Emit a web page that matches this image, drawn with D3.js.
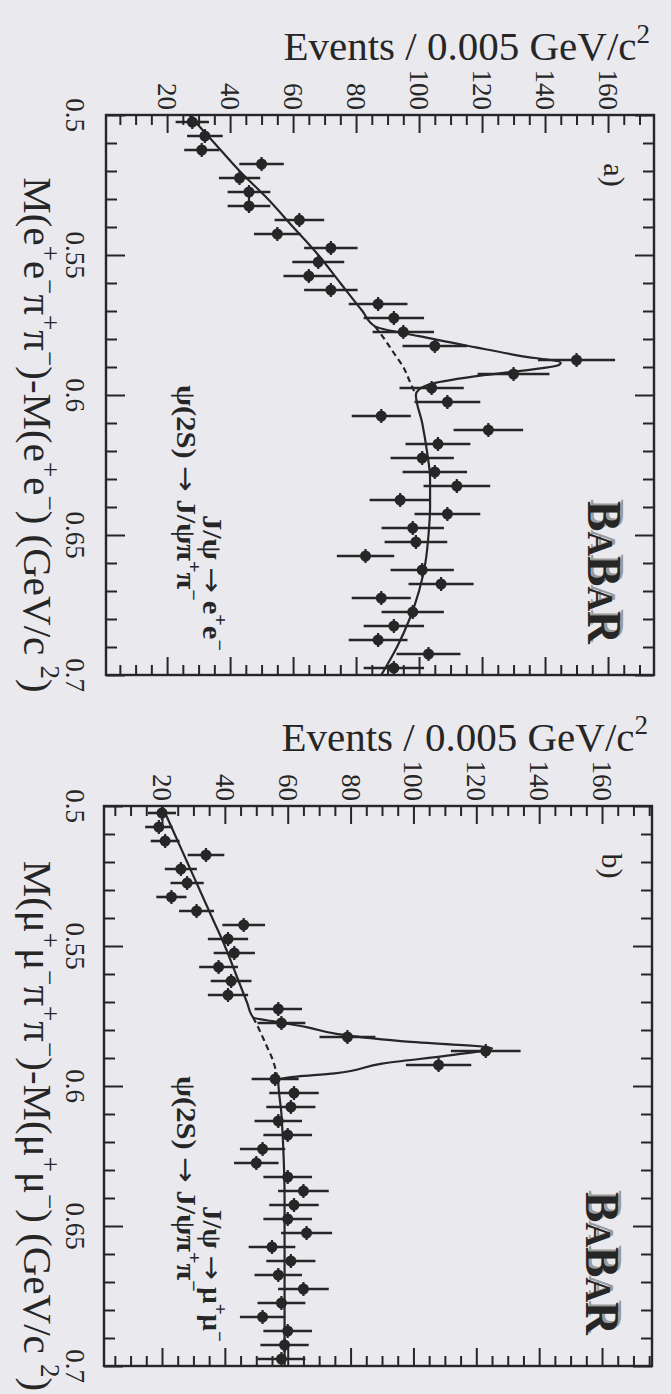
<!DOCTYPE html>
<html>
<head>
<meta charset="utf-8">
<script src="https://cdn.jsdelivr.net/npm/d3@7"></script>
<style>
  body { margin: 0; background: #eae9ee; }
  svg { display: block; }
  text { font-family: "Liberation Serif", "Times New Roman", serif; fill: #262626; }
</style>
</head>
<body>
<div id="wrapper"></div>
<script>
// bin centres in GeV/c^2 (bins are 0.005 wide)
const massBins = [0.5025, 0.5075, 0.5125, 0.5175, 0.5225, 0.5275, 0.5325, 0.5375, 0.5425, 0.5475,
  0.5525, 0.5575, 0.5625, 0.5675, 0.5725, 0.5775, 0.5825, 0.5875, 0.5925, 0.5975,
  0.6025, 0.6075, 0.6125, 0.6175, 0.6225, 0.6275, 0.6325, 0.6375, 0.6425, 0.6475,
  0.6525, 0.6575, 0.6625, 0.6675, 0.6725, 0.6775, 0.6825, 0.6875, 0.6925, 0.6975];

// a) J/psi -> e+e-
const eventsEE = [28, 32, 31, 50, 43, 46, 46, 62, 55, 72,
  68, 65, 72, 87, 92, 95, 105, 150, 130, 104,
  109, 88, 122, 106, 101, 105, 112, 94, 109, 98,
  99, 83, 101, 107, 88, 98, 92, 87, 103, 92];

// b) J/psi -> mu+mu-
const eventsMM = [20, 19, 21, 34, 26, 28, 23, 31, 46, 41,
  43, 38, 42, 41, 57, 58, 79, 123, 108, 56,
  62, 61, 57, 60, 52, 50, 60, 65, 62, 60,
  66, 55, 61, 57, 65, 58, 52, 60, 59, 58];

// fitted curves: [mass, events]
const fitEE = [[0.500, 27], [0.510, 35], [0.520, 43], [0.530, 52], [0.540, 60], [0.550, 68],
  [0.560, 75], [0.570, 82], [0.5755, 86], [0.579, 100], [0.583, 118], [0.586, 132],
  [0.5885, 145], [0.5895, 144], [0.591, 135], [0.593, 120], [0.596, 104], [0.598, 100],
  [0.600, 99], [0.610, 101], [0.620, 102.5], [0.630, 103.5], [0.640, 103.5], [0.650, 103],
  [0.660, 102], [0.670, 100], [0.680, 97], [0.690, 93], [0.700, 88]];
const bkgEE = [[0.5755, 86], [0.580, 89], [0.585, 92], [0.590, 95], [0.595, 97], [0.600, 99]];

const fitMM = [[0.500, 20], [0.510, 24], [0.520, 28], [0.530, 32], [0.540, 36], [0.550, 40],
  [0.560, 43.5], [0.570, 47], [0.5755, 49], [0.577, 56], [0.579, 66], [0.5815, 76],
  [0.584, 96], [0.5865, 125], [0.589, 112], [0.592, 90], [0.5955, 75], [0.597, 60],
  [0.598, 57], [0.610, 58], [0.620, 58.5], [0.640, 59], [0.660, 59], [0.680, 59], [0.700, 59]];
const bkgMM = [[0.5755, 49], [0.580, 51], [0.585, 53], [0.590, 55], [0.598, 57]];

const massTicks = [0.5, 0.55, 0.6, 0.65, 0.7];
const massTickLabels = ["0.5", "0.55", "0.6", "0.65", "0.7"];
const eventTicks = [20, 40, 60, 80, 100, 120, 140, 160];

const ink = "#262626";

// text pieces: [string, 0 normal | 1 superscript | 2 arrow]
const xTitleEE = [["M(e", 0], ["+", 1], ["e", 0], ["−", 1], ["π", 0], ["+", 1], ["π", 0], ["−", 1],
  [")-M(e", 0], ["+", 1], ["e", 0], ["−", 1], [") (GeV/c ", 0], ["2", 1], [")", 0]];
const xTitleMM = [["M(μ", 0], ["+", 1], ["μ", 0], ["−", 1], ["π", 0], ["+", 1], ["π", 0], ["−", 1],
  [")-M(μ", 0], ["+", 1], ["μ", 0], ["−", 1], [") (GeV/c ", 0], ["2", 1], [")", 0]];
const decayPsi = [["ψ(2S) ", 0], ["→", 2], [" J/ψπ", 0], ["+", 1], ["π", 0], ["−", 1]];
const decayEE = [["J/ψ ", 0], ["→", 2], [" e", 0], ["+", 1], ["e", 0], ["−", 1]];
const decayMM = [["J/ψ ", 0], ["→", 2], [" μ", 0], ["+", 1], ["μ", 0], ["−", 1]];

const panels = [
  { tag: "a)", events: eventsEE, fit: fitEE, bkg: bkgEE, xTitle: xTitleEE, decay: decayEE,
    top: 115, bottom: 675, left: 106, right: 654, evDomain: [0.6, 174.6] },
  { tag: "b)", events: eventsMM, fit: fitMM, bkg: bkgMM, xTitle: xTitleMM, decay: decayMM,
    top: 806, bottom: 1366, left: 104, right: 652, evDomain: [1.55, 175.9] }
];

function richText(sel, parts, size) {
  let shift = 0;
  parts.forEach(([t, kind]) => {
    const target = kind === 1 ? -0.42 * size : 0;
    const ts = sel.append("tspan")
      .attr("dy", target - shift)
      .attr("font-size", kind === 1 ? size * 0.66 : size)
      .text(t);
    if (kind === 2) ts.style("font-family", "DejaVu Sans").attr("font-weight", "normal");
    shift = target;
  });
}

// stretch a rotated label along its baseline to the length seen in the scan
function stretchTo(sel, pos, len) {
  const w = sel.node().getComputedTextLength();
  sel.attr("transform", `translate(${pos[0]},${pos[1]}) rotate(90) scale(${len / w},1)`);
}

const svg = d3.select("#wrapper")
  .append("svg")
  .attr("width", 671)
  .attr("height", 1394);

svg.append("rect").attr("width", 671).attr("height", 1394).attr("fill", "#eae9ee");

panels.forEach((p) => {
  // the figure is turned a quarter clockwise: mass runs down, events run right
  const x = d3.scaleLinear().domain([0.5, 0.7]).range([p.top, p.bottom]);
  const y = d3.scaleLinear().domain(p.evDomain).range([p.left, p.right]);
  const g = svg.append("g");

  const minorEv = y.ticks(35).filter((t) => t % 20 !== 0);
  const minorMass = x.ticks(20).filter((t) => Math.abs(t * 20 - Math.round(t * 20)) > 1e-6);

  const tickAxis = (axis, vals, size, tr) => {
    const a = g.append("g")
      .attr("transform", tr)
      .call(axis.tickValues(vals).tickSize(size).tickSizeOuter(0).tickFormat(""));
    a.select(".domain").remove();
    a.selectAll("line").attr("stroke", ink).attr("stroke-width", 2);
  };
  // event ticks on top and bottom edges, pointing inward
  tickAxis(d3.axisBottom(y), minorEv, 10, `translate(0,${p.top})`);
  tickAxis(d3.axisBottom(y), eventTicks, 18, `translate(0,${p.top})`);
  tickAxis(d3.axisTop(y), minorEv, 10, `translate(0,${p.bottom})`);
  tickAxis(d3.axisTop(y), eventTicks, 18, `translate(0,${p.bottom})`);
  // mass ticks on left and right edges
  tickAxis(d3.axisRight(x), minorMass, 11, `translate(${p.left},0)`);
  tickAxis(d3.axisRight(x), massTicks, 19, `translate(${p.left},0)`);
  tickAxis(d3.axisLeft(x), minorMass, 11, `translate(${p.right},0)`);
  tickAxis(d3.axisLeft(x), massTicks, 19, `translate(${p.right},0)`);

  // fit curves
  const line = d3.line()
    .x((d) => y(d[1]))
    .y((d) => x(d[0]))
    .curve(d3.curveMonotoneY);
  g.append("path").datum(p.bkg).attr("d", line)
    .attr("fill", "none").attr("stroke", ink).attr("stroke-width", 2.2)
    .attr("stroke-dasharray", "6,4");
  g.append("path").datum(p.fit).attr("d", line)
    .attr("fill", "none").attr("stroke", ink).attr("stroke-width", 2.2);

  // data points with errors
  const pts = g.selectAll(".pt")
    .data(massBins.map((m, i) => ({ m, n: p.events[i] })))
    .join("g")
    .attr("class", "pt");
  pts.append("line")
    .attr("x1", (d) => y(d.n - Math.sqrt(d.n)))
    .attr("x2", (d) => y(d.n + Math.sqrt(d.n)))
    .attr("y1", (d) => x(d.m))
    .attr("y2", (d) => x(d.m))
    .attr("stroke", ink).attr("stroke-width", 2.6);
  pts.append("line")
    .attr("x1", (d) => y(d.n))
    .attr("x2", (d) => y(d.n))
    .attr("y1", (d) => x(d.m - 0.0025))
    .attr("y2", (d) => x(d.m + 0.0025))
    .attr("stroke", ink).attr("stroke-width", 2.2);
  pts.append("circle")
    .attr("cx", (d) => y(d.n))
    .attr("cy", (d) => x(d.m))
    .attr("r", 5.5)
    .attr("fill", ink);

  // frame
  g.append("rect")
    .attr("x", p.left).attr("y", p.top)
    .attr("width", p.right - p.left).attr("height", p.bottom - p.top)
    .attr("fill", "none").attr("stroke", ink).attr("stroke-width", 2.4);

  // tick labels (rotated with the figure)
  g.selectAll(".evlab")
    .data(eventTicks)
    .join("text")
    .attr("transform", (d) => `translate(${y(d) - 9},${p.top - 5}) rotate(90)`)
    .attr("text-anchor", "end")
    .attr("font-size", 27)
    .text((d) => d);
  g.selectAll(".mlab")
    .data(massTicks)
    .join("text")
    .attr("transform", (d) => `translate(66,${x(d)}) rotate(90)`)
    .attr("text-anchor", "middle")
    .attr("font-size", 27)
    .text((d, i) => massTickLabels[i]);

  // axis titles
  const ev = g.append("text")
    .attr("x", p.right - 4)
    .attr("y", p.top - 55)
    .attr("text-anchor", "end");
  richText(ev, [["Events / 0.005 GeV/c", 0], ["2", 1]], 41);

  const xt = g.append("text")
    .attr("transform", `translate(24,${(p.top + p.bottom) / 2 + 40}) rotate(90)`)
    .attr("text-anchor", "middle");
  richText(xt, p.xTitle, 41);

  // panel tag
  g.append("text")
    .attr("transform", `translate(${p.right - 50},${p.top + 60}) rotate(90)`)
    .attr("text-anchor", "middle")
    .attr("font-size", 30)
    .text(p.tag);

  // decay labels
  const d1 = g.append("text").attr("font-weight", "bold");
  richText(d1, decayPsi, 27);
  stretchTo(d1, [177, p.top + 270], 216);
  const d2 = g.append("text").attr("font-weight", "bold");
  richText(d2, p.decay, 27);
  stretchTo(d2, [203, p.top + 400], 136);

  // BaBar logo with its grey shadow
  [["#9a9a9a", 3, -2], [ink, 0, 0]].forEach(([c, dx, dy]) => {
    const b = g.append("text")
      .attr("transform", `translate(${p.right - 66 + dx},${p.top + 386 + dy}) rotate(90)`)
      .attr("font-weight", "bold")
      .attr("textLength", 143)
      .attr("lengthAdjust", "spacingAndGlyphs")
      .style("fill", c);
    [["B", 48], ["A", 36], ["B", 48], ["A", 36], ["R", 48]].forEach(([t, s]) => {
      b.append("tspan").attr("font-size", s).text(t);
    });
  });
});
</script>
</body>
</html>
